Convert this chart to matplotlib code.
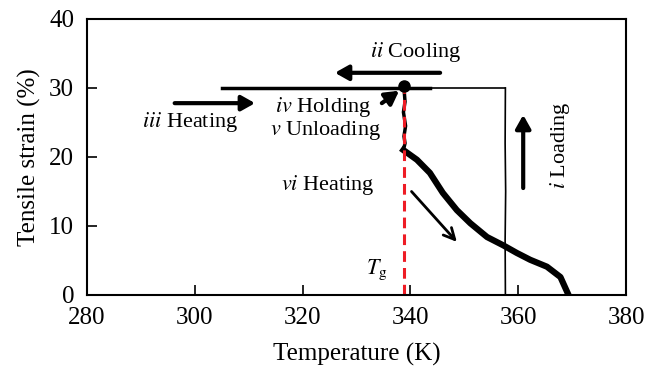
import matplotlib
matplotlib.use("Agg")
import matplotlib.pyplot as plt

plt.rcParams['font.family'] = ['Liberation Serif', 'DejaVu Serif']
plt.rcParams['mathtext.fontset'] = 'stix'

# step i: loading at constant temperature
load_T = [357.6, 357.55, 357.65, 357.55, 357.6]
load_s = [0.0, 8.0, 15.0, 22.0, 30.0]

# step ii: cooling at 30 % (thick and thin parts)
cool_thick_T = [305.0, 343.6]
cool_thin_T = [338.8, 357.6]
cool_s = [30.0, 30.0]

# step v: unloading at the holding temperature
unload_T = [338.8, 339.0, 338.7, 339.1, 338.8, 339.0, 338.7]
unload_s = [30.0, 28.0, 26.5, 24.5, 23.0, 22.0, 21.0]

# step vi: heating (shape recovery)
heat_T = [338.7, 341.2, 343.6, 346.0, 348.6, 351.1, 354.2, 357.2, 359.7, 362.2, 365.3, 367.8, 369.3]
heat_s = [21.0, 19.6, 17.7, 14.8, 12.3, 10.4, 8.4, 7.2, 6.1, 5.1, 4.1, 2.6, 0.0]

Tg = 338.8
hold_T, hold_s = 338.8, 30.3

fig, ax = plt.subplots(figsize=(6.62, 3.72), dpi=100)
fig.subplots_adjust(left=0.131, right=0.946, bottom=0.207, top=0.949)

ax.plot(load_T, load_s, color='black', lw=1.2)
ax.plot(cool_thick_T, cool_s, color='black', lw=2.5)
ax.plot(cool_thin_T, cool_s, color='black', lw=1.2)
ax.plot(unload_T, unload_s, color='black', lw=2.5)
ax.plot(heat_T, heat_s, color='black', lw=4.5)
ax.plot([Tg, Tg], [0, 30], color='#ee1c25', lw=2.2, ls=(0, (3.5, 2)))
ax.plot([hold_T], [hold_s], 'o', color='black', ms=8)

arrow_bold = dict(arrowstyle='-|>,head_length=0.8,head_width=0.45', color='black', lw=3, shrinkA=0, shrinkB=0)
arrow_open = dict(arrowstyle='->,head_length=0.8,head_width=0.4', color='black', lw=2, shrinkA=0, shrinkB=0)

# arrows for each step
ax.annotate('', xy=(326.0, 32.2), xytext=(345.5, 32.2), arrowprops=arrow_bold)
ax.annotate('', xy=(311.2, 27.8), xytext=(296.3, 27.8), arrowprops=arrow_bold)
ax.annotate('', xy=(337.9, 29.6), xytext=(334.7, 27.8), arrowprops=arrow_bold)
ax.annotate('', xy=(360.9, 26.1), xytext=(360.9, 15.5), arrowprops=arrow_bold)
ax.annotate('', xy=(348.6, 7.7), xytext=(340.2, 15.0), arrowprops=arrow_open)

fs = 16
ax.text(340.9, 35.2, r'$ii$ Cooling', fontsize=fs, ha='center', va='center')
ax.text(299.1, 25.1, r'$iii$ Heating', fontsize=fs, ha='center', va='center')
ax.text(323.8, 27.2, r'$iv$ Holding', fontsize=fs, ha='center', va='center')
ax.text(324.2, 23.9, r'$v$ Unloading', fontsize=fs, ha='center', va='center')
ax.text(324.7, 15.9, r'$vi$ Heating', fontsize=fs, ha='center', va='center')
ax.text(367.8, 21.7, r'$i$ Loading', fontsize=fs, ha='center', va='center', rotation=90)
ax.text(333.8, 3.6, r'$T_{\rm g}$', fontsize=fs, ha='center', va='center')

ax.set_xlim(280, 380)
ax.set_ylim(0, 40)
ax.set_xticks([280, 300, 320, 340, 360, 380])
ax.set_yticks([0, 10, 20, 30, 40])
ax.tick_params(direction='in', length=7, width=1.2, labelsize=18, top=False, right=False)
ax.tick_params(axis='x', pad=9)
ax.tick_params(axis='y', pad=9)
for sp in ax.spines.values():
    sp.set_linewidth(1.5)
ax.set_xlabel('Temperature (K)', fontsize=18, labelpad=10)
ax.set_ylabel('Tensile strain (%)', fontsize=18, labelpad=6)

fig.savefig('out.png', dpi=100)
